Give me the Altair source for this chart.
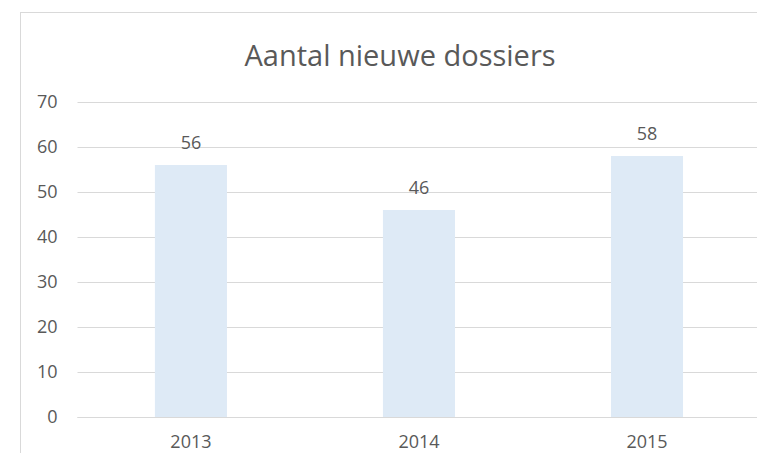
import altair as alt
import pandas as pd

years = ["2013", "2014", "2015"]
values = [56, 46, 58]
y_ticks = [0, 10, 20, 30, 40, 50, 60, 70]
title_text = "Aantal nieuwe dossiers"

df = pd.DataFrame({"year": years, "value": values})

FONT = "Open Sans"
TXT = "#595959"
GRID = "#d9d9d9"
W, H = 680, 315
BOTTOM = 36

x_enc = alt.X("year:N", sort=years, title=None,
              scale=alt.Scale(paddingInner=0.684, paddingOuter=0.333, align=0.513),
              axis=alt.Axis(labelAngle=0, ticks=False, domain=True, domainColor=GRID,
                            labelColor=TXT, labelFont=FONT, labelFontSize=18,
                            labelPadding=16, grid=False))
y_enc = alt.Y("value:Q", title=None,
              scale=alt.Scale(domain=[0, 70], nice=False),
              axis=alt.Axis(values=y_ticks, ticks=False, domain=False, gridColor=GRID,
                            labelColor=TXT, labelFont=FONT, labelFontSize=18,
                            labelPadding=20))

base = alt.Chart(df)
bars = base.mark_bar(color="#deeaf6").encode(x=x_enc, y=y_enc)
labels = base.mark_text(dy=-16, baseline="alphabetic", font=FONT, fontSize=18, color=TXT).encode(
    x=alt.X("year:N", sort=years), y="value:Q", text="value:Q")

title_df = pd.DataFrame({"t": [title_text]})
title = alt.Chart(title_df).mark_text(font=FONT, fontSize=29, color=TXT,
                                      baseline="alphabetic", align="center").encode(
    x=alt.value(323), y=alt.value(-36), text="t:N")

frame_df = pd.DataFrame({"k": [0]})
frame_top = alt.Chart(frame_df).mark_rule(color=GRID, strokeWidth=1).encode(
    x=alt.value(-57), x2=alt.value(W + 20), y=alt.value(-89.5))
frame_left = alt.Chart(frame_df).mark_rule(color=GRID, strokeWidth=1).encode(
    x=alt.value(-56.5), y=alt.value(-89.5), y2=alt.value(H + BOTTOM))

chart = alt.layer(frame_top, frame_left, bars, labels, title).properties(
    width=W, height=H,
    autosize=alt.AutoSizeParams(type="none"),
    padding={"left": 69, "top": 94, "right": 0, "bottom": BOTTOM},
).configure_view(stroke=None, clip=False)

chart.save("out.html", embed_options={"renderer": "svg", "actions": False})
